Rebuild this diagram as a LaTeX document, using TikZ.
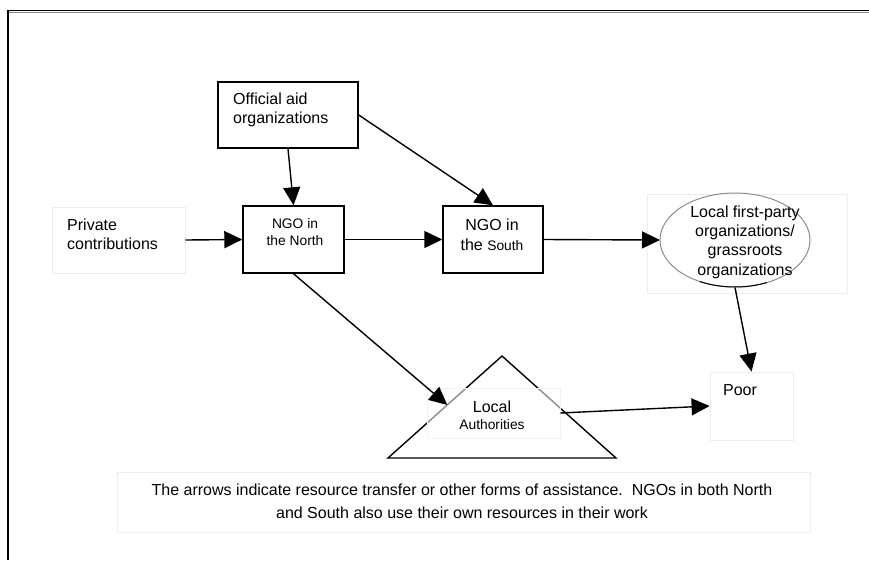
\documentclass[tikz,border=0pt]{standalone}
\usepackage{fontspec}
\setmainfont{Liberation Sans}
\usetikzlibrary{arrows.meta,shapes.geometric,calc}
\newcommand\fsixteen{\fontsize{16}{19.3}\selectfont}
\newcommand\ffourteen{\fontsize{13.8}{17}\selectfont}
\begin{document}
\begin{tikzpicture}[x=1pt,y=-1pt,
  stepbox/.style={draw, line width=1.4pt, inner sep=0pt},
  faintbox/.style={draw=black!7, line width=0.8pt, inner sep=0pt},
  txt/.style={inner sep=0pt, align=center, font=\fsixteen},
  flow/.style={line width=1.4pt, -{Triangle[length=18pt,width=17pt]}}]
\useasboundingbox (0,0) rectangle (869,560);

% page frame
\draw[line width=1.5pt] (8,10.5) -- (869,10.5);
\draw[black!45, line width=1.2pt] (8,12.3) -- (869,12.3);
\draw[line width=1.4pt] (8,10) -- (8,560);

% boxes
\node[stepbox, minimum width=140pt, minimum height=66pt] (oa) at (288,115) {};
\node[txt, anchor=west, align=left] (oatxt) at (233,110) {Official aid\\organizations};

\node[faintbox, minimum width=133pt, minimum height=66pt] (pc) at (118.5,240) {};
\node[txt, anchor=west, align=left] (pctxt) at (67,234) {Private\\contributions};

\node[stepbox, minimum width=101pt, minimum height=67pt] (nn) at (293.5,239.5) {};
\node[txt, font=\ffourteen] (nntxt) at (295,232) {NGO in\\the North};

\node[stepbox, minimum width=100pt, minimum height=67pt] (ns) at (493,239.5) {};
\node[txt, font=\fontsize{16}{20}\selectfont] (nstxt) at (492,235) {NGO in\\the {\ffourteen South}};

% grassroots organisations
\node[faintbox, minimum width=200pt, minimum height=99pt] (lobg) at (747,243.5) {};
\draw[flow] (ns.east) -- (660,240) coordinate (loW);
\node[ellipse, draw=black!45, line width=1pt, fill=white, fill opacity=0.6,
      minimum width=150pt, minimum height=94pt, inner sep=0pt] (lo) at (735,240) {};
\draw[line width=1pt] ([shift={(65:75pt and -47pt)}]lo.center) arc[start angle=65, end angle=118, x radius=75pt, y radius=-47pt];
\node[txt] (lotxt) at (745,242) {Local first-party\\organizations/\\grassroots\\organizations};

% poor
\node[faintbox, minimum width=83pt, minimum height=68pt] (po) at (751.5,406) {};
\node[txt] (potxt) at (740,390) {Poor};

% local authorities
\coordinate (apex) at (502,356);
\coordinate (bl) at (388,458);
\coordinate (br) at (616,458);
\draw[line width=1.4pt, line join=miter] (apex) -- (bl) -- (br) -- cycle;
\node[draw=black!5, line width=0.6pt, fill=white, fill opacity=0.55,
      minimum width=133pt, minimum height=50pt, inner sep=0pt] (la) at (493.5,413) {};
\node[txt, font=\fontsize{16}{17}\selectfont] (latxt) at (492,415) {Local\\{\ffourteen Authorities}};
\coordinate (laIn) at ($(apex)!0.48!(bl)$);

% connectors
\draw[flow] (pc.east) -- (nn.west);
\draw[flow] (oa.south) -- (nn.north);
\draw[flow] (oa.east) -- (ns.north);
\draw[flow] (nn.east) -- (ns.west);
\draw[flow] (nn.south) -- (laIn);
\draw[flow] (lo.south) -- (po.north);
\draw[flow] (la.east) -- (po.west);

% note
\node[faintbox, minimum width=693pt, minimum height=60pt] (note) at (463.5,502) {};
\node[txt, font=\fontsize{16}{23}\selectfont] (notetxt) at (462,501)
  {The arrows indicate resource transfer or other forms of assistance.\ \ NGOs in both North\\and South also use their own resources in their work};
\end{tikzpicture}
\end{document}
